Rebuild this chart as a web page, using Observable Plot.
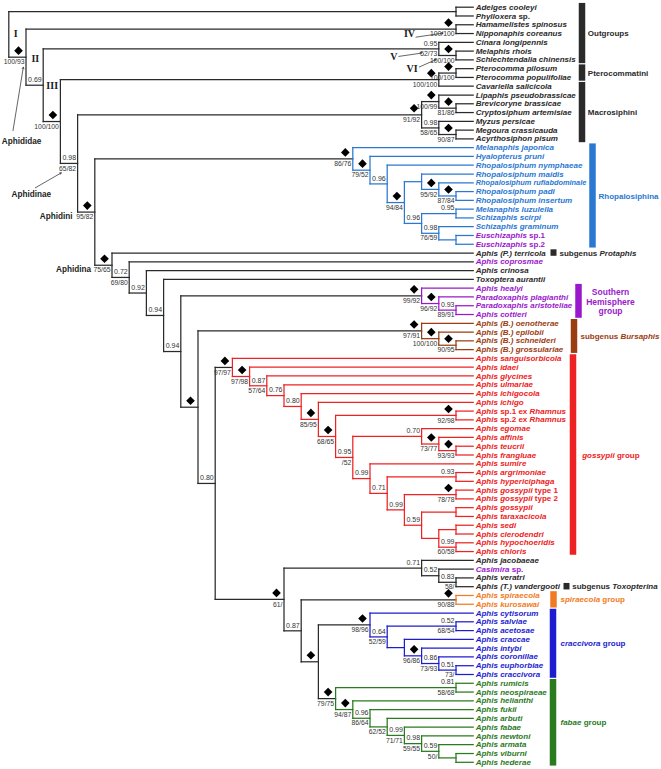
<!DOCTYPE html>
<html><head><meta charset="utf-8">
<script src="https://cdn.jsdelivr.net/npm/d3@7"></script>
<script src="https://cdn.jsdelivr.net/npm/@observablehq/plot@0.6"></script>
<style>body{margin:0;background:#fff}</style>
</head><body><div id="chart"></div>
<script>
// ---------------- DATA ----------------
const tipNames = [
 "Adelges cooleyi","Phylloxera sp.","Hamamelistes spinosus","Nipponaphis coreanus","Cinara longipennis",
 "Melaphis rhois","Schlechtendalia chinensis","Pterocomma pilosum","Pterocomma populifoliae","Cavariella salicicola",
 "Lipaphis pseudobrassicae","Brevicoryne brassicae","Cryptosiphum artemisiae","Myzus persicae","Megoura crassicauda",
 "Acyrthosiphon pisum","Melanaphis japonica","Hyalopterus pruni","Rhopalosiphum nymphaeae","Rhopalosiphum maidis",
 "Rhopalosiphum rufiabdominale","Rhopalosiphum padi","Rhopalosiphum insertum","Melanaphis luzulella","Schizaphis scirpi",
 "Schizaphis graminum","Euschizaphis sp.1","Euschizaphis sp.2","Aphis (P.) terricola","Aphis coprosmae",
 "Aphis crinosa","Toxoptera aurantii","Aphis healyi","Paradoxaphis plagianthi","Paradoxaphis aristoteliae",
 "Aphis cottieri","Aphis (B.) oenotherae","Aphis (B.) epilobii","Aphis (B.) schneideri","Aphis (B.) grossulariae",
 "Aphis sanguisorbicola","Aphis idaei","Aphis glycines","Aphis ulmariae","Aphis ichigocola",
 "Aphis ichigo","Aphis sp.1 ex Rhamnus","Aphis sp.2 ex Rhamnus","Aphis egomae","Aphis affinis",
 "Aphis teucrii","Aphis frangluae","Aphis sumire","Aphis argrimoniae","Aphis hypericiphaga",
 "Aphis gossypii type 1","Aphis gossypii type 2","Aphis gossypii","Aphis taraxacicola","Aphis sedi",
 "Aphis clerodendri","Aphis hypochoeridis","Aphis chloris","Aphis jacobaeae","Casimira sp.",
 "Aphis veratri","Aphis (T.) vandergooti","Aphis spiraecola","Aphis kurosawai","Aphis cytisorum",
 "Aphis salviae","Aphis acetosae","Aphis craccae","Aphis intybi","Aphis coronillae",
 "Aphis euphorbiae","Aphis craccivora","Aphis rumicis","Aphis neospiraeae","Aphis helianthi",
 "Aphis fukii","Aphis arbuti","Aphis fabae","Aphis newtoni","Aphis armata",
 "Aphis viburni","Aphis hederae"
];
// label colour category of each tip (k black, b Rhopalosiphina, p purple, n Bursaphis, r gossypii, o spiraecola, c craccivora, g fabae)
const tipCategory = [
 "k","k","k","k","k","k","k","k","k","k",
 "k","k","k","k","k","k","b","b","b","b",
 "b","b","b","b","b","b","p","p","k","p",
 "k","k","p","p","p","p","n","n","n","n",
 "r","r","r","r","r","r","r","r","r","r",
 "r","r","r","r","r","r","r","r","r","r",
 "r","r","r","k","p","k","k","o","o","c",
 "c","c","c","c","c","c","c","g","g","g",
 "g","g","g","g","g","g","g"
];
// internal nodes: id, child A, child B, cladogram level, posterior, bootstrap, diamond (support 1.0/100)
const clades = [
 ["adph", 0, 1, 26, "", "", 0],
 ["hamnip", 2, 3, 26, "", "100/100", 1],
 ["melsch", 5, 6, 26, "", "100/100", 1],
 ["cinara", 4, "melsch", 25, "0.95", "52/73", 0],
 ["ptero", 7, 8, 26, "", "100/100", 1],
 ["pterocav", "ptero", 9, 25, "", "100/100", 1],
 ["brevcry", 11, 12, 26, "", "81/86", 1],
 ["lipa", 10, "brevcry", 25, "", "100/99", 1],
 ["megacy", 14, 15, 26, "", "90/87", 1],
 ["myzus", 13, "megacy", 25, "0.98", "58/65", 0],
 ["macro", "lipa", "myzus", 24, "", "91/92", 1],
 ["padins", 21, 22, 26, "", "87/84", 1],
 ["rufi", 20, "padins", 25, "", "95/92", 1],
 ["maidis", 19, "rufi", 24, "", "", 0],
 ["mlss", 23, 24, 26, "0.95", "", 0],
 ["eusch", 26, 27, 26, "", "", 0],
 ["gram", 25, "eusch", 25, "0.98", "76/59", 0],
 ["schiz", "mlss", "gram", 24, "0.96", "", 0],
 ["r23", "maidis", "schiz", 23, "", "94/84", 1],
 ["r22", 18, "r23", 22, "0.96", "", 0],
 ["r21", 17, "r22", 21, "", "79/52", 1],
 ["rhop", 16, "r21", 20, "", "86/76", 1],
 ["arco", 34, 35, 26, "0.93", "89/91", 0],
 ["plag", 33, "arco", 25, "", "96/92", 1],
 ["south", 32, "plag", 24, "", "99/92", 1],
 ["schgro", 38, 39, 26, "", "90/95", 1],
 ["epil", 37, "schgro", 25, "", "100/100", 1],
 ["burs", 36, "epil", 24, "", "97/91", 1],
 ["rham", 46, 47, 26, "", "92/98", 1],
 ["teufra", 50, 51, 26, "", "93/93", 1],
 ["aff", 49, "teufra", 25, "", "73/77", 1],
 ["ego", 48, "aff", 24, "0.70", "", 0],
 ["arhy", 53, 54, 26, "0.93", "", 0],
 ["gt12", 55, 56, 26, "", "78/78", 1],
 ["gota", 57, 58, 26, "", "", 0],
 ["secl", 59, 60, 26, "", "", 0],
 ["hych", 61, 62, 26, "0.99", "60/58", 0],
 ["g25", "secl", "hych", 25, "", "", 0],
 ["g24", "gota", "g25", 24, "0.59", "", 0],
 ["g23", "gt12", "g24", 23, "0.99", "", 0],
 ["g22", "arhy", "g23", 22, "0.71", "", 0],
 ["g21", 52, "g22", 21, "0.99", "", 0],
 ["g20", "ego", "g21", 20, "0.95", "/52", 0],
 ["g19", "rham", "g20", 19, "", "68/65", 1],
 ["g18", 45, "g19", 18, "", "85/95", 1],
 ["g17", 44, "g18", 17, "0.80", "", 0],
 ["g16", 43, "g17", 16, "0.76", "", 0],
 ["g15", 42, "g16", 15, "0.87", "57/64", 0],
 ["g14", 41, "g15", 14, "", "97/98", 1],
 ["goss", 40, "g14", 13, "", "97/97", 1],
 ["vera", 65, 66, 26, "0.83", "58/", 0],
 ["casi", 64, "vera", 25, "0.52", "", 0],
 ["jaco", 63, "casi", 24, "0.71", "", 0],
 ["spir", 67, 68, 26, "", "90/88", 1],
 ["salac", 70, 71, 26, "0.52", "68/54", 0],
 ["eucr", 75, 76, 26, "0.51", "73/", 0],
 ["coro", 74, "eucr", 25, "0.86", "73/93", 0],
 ["inty", 73, "coro", 24, "", "96/86", 1],
 ["crac", 72, "inty", 23, "", "", 0],
 ["c22", "salac", "crac", 22, "0.64", "52/59", 0],
 ["cracc", 69, "c22", 21, "", "98/96", 1],
 ["rune", 77, 78, 26, "0.81", "58/68", 0],
 ["vihe", 85, 86, 26, "", "", 0],
 ["f25", 84, "vihe", 25, "0.59", "50/", 0],
 ["f24", 83, "f25", 24, "0.98", "59/55", 0],
 ["f23", 82, "f24", 23, "0.99", "71/71", 0],
 ["f22", 81, "f23", 22, "", "62/52", 0],
 ["f21", 80, "f22", 21, "0.96", "86/64", 0],
 ["f20", 79, "f21", 20, "", "94/87", 1],
 ["fab", "rune", "f20", 19, "", "79/75", 1],
 ["n18", "cracc", "fab", 18, "", "", 1],
 ["n17", "spir", "n18", 17, "0.87", "", 0],
 ["n16", "jaco", "n17", 16, "", "61/", 1],
 ["n12", "goss", "n16", 12, "0.80", "", 0],
 ["n11", "burs", "n12", 11, "", "", 1],
 ["n10", "south", "n11", 10, "0.94", "", 0],
 ["n9", 31, "n10", 9, "0.94", "", 0],
 ["n8", 30, "n9", 8, "0.92", "", 0],
 ["n7", 29, "n8", 7, "0.72", "69/80", 0],
 ["aphidina", 28, "n7", 6, "", "75/65", 1],
 ["aphidini", "rhop", "aphidina", 5, "", "95/82", 1],
 ["aphidinae", "macro", "aphidini", 4, "0.98", "65/82", 0],
 ["n3", "pterocav", "aphidinae", 3, "", "100/100", 1],
 ["n2", "cinara", "n3", 2, "0.69", "", 0],
 ["n1", "hamnip", "n2", 1, "", "100/93", 1],
 ["root", "adph", "n1", 0, "", "", 0]
];
// coloured clades (root node -> colour category)
const cladeRootIds = ["rhop","south","burs","goss","spir","cracc","fab"];
const cladeRootCategory = ["b","p","n","r","o","c","g"];

// groups on the right
const groupNames = ["Outgroups","Pterocommatini","Macrosiphini","Rhopalosiphina","subgenus Protaphis",
  "Southern\nHemisphere\ngroup","subgenus Bursaphis","gossypii group","subgenus Toxopterina",
  "spiraecola group","craccivora group","fabae group"];
const groupFirst = [0,7,9,16,28,32,36,40,66,67,69,77];
const groupLast  = [6,8,15,27,28,35,39,62,66,68,76,86];
const groupCategory = ["k","k","k","b","k","p","n","r","k","o","c","g"];
const groupItalicWords = ["Protaphis","Bursaphis","gossypii","spiraecola","craccivora","fabae","Toxopterina"];

// annotations anchored to nodes
const annoText = ["I","II","III","IV","V","VI","Aphididae","Aphidinae","Aphidini","Aphidina"];
const annoNode = ["root","n1","n2","hamnip","cinara","melsch","n1","aphidinae","aphidini","aphidina"];
const arrowNode = ["hamnip","cinara","melsch","n1","aphidinae"];

// ---------------- LAYOUT / STYLE ----------------
const W = 661, H = 769, TIP_LEVEL = 27, NROW = tipNames.length - 1;
const X_RANGE = [8.3, 472.7], Y_RANGE = [6.7, 761.8];
const kx = (X_RANGE[1] - X_RANGE[0]) / TIP_LEVEL;
const ky = (Y_RANGE[1] - Y_RANGE[0]) / NROW;
const px2x = px => (px - X_RANGE[0]) / kx;
const TIP_DX = 2.5;
const catDomain = ["k","b","p","n","r","o","c","g"];
const catRange  = ["#2a2a2a","#2a78d2","#9a18cc","#9a3d12","#ee2222","#f27a22","#1c1cd2","#2a7a1e"];
const groupBarPx   = [581.5,581.5,581.5,592,553,578,573.5,572.5,566,553,552.5,552.5];
const groupLabelPx = [587.3,587.3,587.3,598,559,610,580,581.7,571.7,560,560,560];
const BAR_W = 6.5, SQUARE_W = 6;
const annoOffset = [[7,-0.6],[9.3,1.7],[9,0.5],[-46.5,5],[-45,8],[-44,13],[-4.5,84.4],[-46.3,31],[-22.3,3.8],[-21,4.3]];
const arrowOffset = [[-40,8,-13,4],[-40,7.5,-17.3,4.2],[-36.7,11.5,-20,4.1],[-13,73.4,-2.7,10.1],[-42.3,24.4,-16.3,9.4]];

// ---------------- TREE LAYOUT ----------------
const nodes = new Map();
tipNames.forEach((name, i) => nodes.set(i, {id: i, tip: true, name, row: i, level: TIP_LEVEL, cat: tipCategory[i]}));
clades.forEach(([id, a, b, level, pp, bs, d]) => nodes.set(id, {id, tip: false, a, b, level, pp, bs, d}));
clades.forEach(([id, a, b]) => { nodes.get(a).parent = id; nodes.get(b).parent = id; });
function rowOf(n) {
  if (n.row === undefined) n.row = (rowOf(nodes.get(n.a)) + rowOf(nodes.get(n.b))) / 2;
  return n.row;
}
function paint(n, cat) {
  const i = cladeRootIds.indexOf(n.id);
  if (i >= 0) cat = cladeRootCategory[i];
  n.bcat = cat;
  if (!n.tip) { paint(nodes.get(n.a), cat); paint(nodes.get(n.b), cat); }
}
const root = nodes.get("root");
rowOf(root); paint(root, "k");

const hSegs = [], vSegs = [];
for (const n of nodes.values()) {
  if (n.parent !== undefined) {
    const p = nodes.get(n.parent);
    hSegs.push({x1: p.level, x2: n.level, y: n.row, cat: p.bcat});
  }
  if (!n.tip) vSegs.push({x: n.level, y1: nodes.get(n.a).row, y2: nodes.get(n.b).row, cat: n.bcat});
}
const internal = [...nodes.values()].filter(n => !n.tip);
const tips = [...nodes.values()].filter(n => n.tip);

const groups = groupNames.map((name, i) => {
  const single = groupFirst[i] === groupLast[i];
  const pad = single ? 0.37 : 0.43;
  return {name, cat: groupCategory[i], y1: groupFirst[i] - pad, y2: groupLast[i] + pad,
    ymid: (groupFirst[i] + groupLast[i]) / 2, xbar: px2x(groupBarPx[i]), xlab: px2x(groupLabelPx[i]),
    single, multiline: name.includes("\n")};
});
const annos = annoText.map((text, i) => {
  const n = nodes.get(annoNode[i]);
  return {text, x: n.level + annoOffset[i][0] / kx, y: n.row + annoOffset[i][1] / ky,
    roman: /^[IV]+$/.test(text), end: i >= 8};
});
const arrows = arrowNode.map((id, i) => {
  const n = nodes.get(id), o = arrowOffset[i];
  return {x1: n.level + o[0] / kx, y1: n.row + o[1] / ky, x2: n.level + o[2] / kx, y2: n.row + o[3] / ky};
});

const SANS = "'Liberation Sans', Arial, Helvetica, sans-serif";
const NARROW = "'Liberation Sans Narrow', 'Arial Narrow', 'Liberation Sans', Arial, sans-serif";
const SERIF = "'Liberation Serif', 'Times New Roman', serif";

const svg = Plot.plot({
  width: W, height: H,
  style: {fontFamily: SANS, background: "#fff"},
  x: {domain: [0, TIP_LEVEL], range: X_RANGE, axis: null},
  y: {domain: [0, NROW], range: Y_RANGE, axis: null},
  color: {type: "ordinal", domain: catDomain, range: catRange},
  marks: [
    Plot.link(hSegs, {x1: "x1", x2: "x2", y1: "y", y2: "y", stroke: "cat", strokeWidth: 1.25, strokeLinecap: "square"}),
    Plot.link(vSegs, {x1: "x", x2: "x", y1: "y1", y2: "y2", stroke: "cat", strokeWidth: 1.25, strokeLinecap: "square"}),
    Plot.ruleX(groups.filter(g => !g.single), {x: "xbar", y1: "y1", y2: "y2", stroke: "cat", strokeWidth: BAR_W}),
    Plot.ruleX(groups.filter(g => g.single), {x: "xbar", y1: "y1", y2: "y2", stroke: "cat", strokeWidth: SQUARE_W}),
    Plot.dot(internal.filter(n => n.d), {x: "level", y: "row", symbol: "diamond2", r: 3.9, fill: "#000", stroke: null, dx: -7.5, dy: -6.5}),
    Plot.text(internal.filter(n => n.pp), {x: "level", y: "row", text: "pp", textAnchor: "end", dx: -1.5, dy: -5.5, fontSize: 7, fontFamily: NARROW, fill: "#333"}),
    Plot.text(internal.filter(n => n.bs), {x: "level", y: "row", text: "bs", textAnchor: "end", dx: -1.5, dy: 5, fontSize: 6.8, fontFamily: NARROW, fill: "#333"}),
    Plot.text(tips, {x: "level", y: "row", text: "name", textAnchor: "start", dx: TIP_DX, fill: "cat", fontSize: 8, fontWeight: "bold", fontStyle: "italic"}),
    Plot.text(groups.filter(g => !g.multiline), {x: "xlab", y: "ymid", text: "name", textAnchor: "start", fill: "cat", fontSize: 8, fontWeight: "bold"}),
    Plot.text(groups.filter(g => g.multiline), {x: "xlab", y: "ymid", text: "name", textAnchor: "middle", fill: "cat", fontSize: 8.5, fontWeight: "bold", lineHeight: 1.17}),
    Plot.text(annos.filter(a => a.roman), {x: "x", y: "y", text: "text", textAnchor: "middle", fontFamily: SERIF, fontWeight: "bold", fontSize: 10, fill: "#222"}),
    Plot.text(annos.filter(a => !a.roman && !a.end), {x: "x", y: "y", text: "text", textAnchor: "middle", fontWeight: "bold", fontSize: 8.2, fill: "#222"}),
    Plot.text(annos.filter(a => a.end), {x: "x", y: "y", text: "text", textAnchor: "end", fontWeight: "bold", fontSize: 8.2, fill: "#222"}),
    Plot.arrow(arrows, {x1: "x1", y1: "y1", x2: "x2", y2: "y2", stroke: "#222", strokeWidth: 0.7, headLength: 3.5})
  ]
});

// mixed roman / italic words inside labels
const SVGNS = "http://www.w3.org/2000/svg";
const tipSet = new Set(tipNames), groupSet = new Set(groupNames), italSet = new Set(groupItalicWords);
const romanTok = /^(sp\.\d?|ex|type|\d)$/;
for (const t of svg.querySelectorAll("text")) {
  if (t.querySelector("tspan")) continue;
  const s = t.textContent;
  let test = null, style = null;
  if (tipSet.has(s)) { test = w => romanTok.test(w); style = "normal"; }
  else if (groupSet.has(s)) { test = w => italSet.has(w); style = "italic"; }
  if (!test) continue;
  const words = s.split(" ");
  if (!words.some(test)) continue;
  t.textContent = "";
  words.forEach((w, i) => {
    const ts = document.createElementNS(SVGNS, "tspan");
    ts.textContent = (i ? " " : "") + w;
    if (test(w)) ts.setAttribute("font-style", style);
    t.appendChild(ts);
  });
}
document.getElementById("chart").appendChild(svg);

// shrink labels that would run into a group bar or past the right edge
const limit = new Map();
groupNames.forEach((g, i) => {
  const half = (groupFirst[i] === groupLast[i] ? SQUARE_W : BAR_W) / 2;
  for (let r = groupFirst[i]; r <= groupLast[i]; r++)
    limit.set(tipNames[r], groupBarPx[i] - half - 3 - (X_RANGE[1] + TIP_DX));
  if (!g.includes("\n")) limit.set(g, W - 2 - groupLabelPx[i]);
});
for (const t of svg.querySelectorAll("text")) {
  const lim = limit.get(t.textContent);
  if (lim !== undefined && t.getComputedTextLength() > lim) {
    t.setAttribute("textLength", lim.toFixed(1));
    t.setAttribute("lengthAdjust", "spacingAndGlyphs");
  }
}
</script>
</body></html>
